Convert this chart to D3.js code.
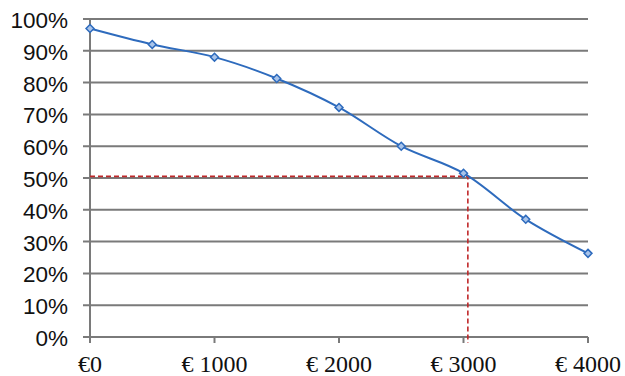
<!DOCTYPE html>
<html>
<head>
<meta charset="utf-8">
<script src="https://cdn.jsdelivr.net/npm/d3@7"></script>
<style>
  body { margin: 0; background: #fff; }
  .ylab { font-family: "Liberation Sans", "Arimo", Arial, Helvetica, sans-serif; }
  .xlab { font-family: "Liberation Serif", "Tinos", "DejaVu Serif", "Times New Roman", serif; }
</style>
</head>
<body>
<svg id="chart"></svg>
<script>
// data
const amounts = [0, 500, 1000, 1500, 2000, 2500, 3000, 3500, 4000];
const shares = [97, 92, 88, 81.3, 72.2, 60, 51.5, 37, 26.3];
const yTicks = [0, 10, 20, 30, 40, 50, 60, 70, 80, 90, 100];
const xTicks = [0, 1000, 2000, 3000, 4000];
const xTickLabels = ["€0", "€ 1000", "€ 2000", "€ 3000", "€ 4000"];
const marker = { amount: 3035, share: 50.5 };

const width = 625, height = 376;
const margin = { top: 19, right: 37, bottom: 39, left: 90 };

const svg = d3.select("#chart")
    .attr("width", width)
    .attr("height", height);

const x = d3.scaleLinear()
    .domain([0, 4000])
    .range([margin.left, width - margin.right]);
const y = d3.scaleLinear()
    .domain([0, 100])
    .range([height - margin.bottom, margin.top]);

// horizontal gridlines
svg.append("g")
    .selectAll("line")
    .data(yTicks)
    .join("line")
    .attr("x1", margin.left - 7)
    .attr("x2", x(4000))
    .attr("y1", d => y(d))
    .attr("y2", d => y(d))
    .attr("stroke", "#7a7a7a")
    .attr("stroke-width", 2);

// y labels
svg.append("g")
    .selectAll("text")
    .data(yTicks)
    .join("text")
    .attr("class", "ylab")
    .attr("x", 68)
    .attr("y", d => y(d) + 9)
    .attr("text-anchor", "end")
    .attr("font-size", "22.5px")
    .attr("fill", "#111")
    .text(d => d + "%");

// vertical axis line
svg.append("line")
    .attr("x1", x(0)).attr("x2", x(0))
    .attr("y1", y(100)).attr("y2", y(0) + 6)
    .attr("stroke", "#7a7a7a")
    .attr("stroke-width", 2);

// x ticks
svg.append("g")
    .selectAll("line")
    .data(xTicks)
    .join("line")
    .attr("x1", d => x(d))
    .attr("x2", d => x(d))
    .attr("y1", y(0))
    .attr("y2", y(0) + 6)
    .attr("stroke", "#7a7a7a")
    .attr("stroke-width", 2);

svg.append("g")
    .selectAll("text")
    .data(xTicks)
    .join("text")
    .attr("class", "xlab")
    .attr("x", d => x(d))
    .attr("y", 372)
    .attr("text-anchor", "middle")
    .attr("font-size", "24px")
    .attr("fill", "#111")
    .text((d, i) => xTickLabels[i]);

// red dashed guide
svg.append("path")
    .attr("d", d3.line()([
        [x(0), y(marker.share)],
        [x(marker.amount), y(marker.share)],
        [x(marker.amount), y(0) + 6]
    ]))
    .attr("fill", "none")
    .attr("stroke", "#c0282a")
    .attr("stroke-width", 1.6)
    .attr("stroke-dasharray", "5,3");

const points = amounts.map((a, i) => ({ a: a, v: shares[i] }));

// smoothed line
svg.append("path")
    .datum(points)
    .attr("fill", "none")
    .attr("stroke", "#2e6bbd")
    .attr("stroke-width", 2)
    .attr("d", d3.line()
        .curve(d3.curveCatmullRom.alpha(0.5))
        .x(d => x(d.a))
        .y(d => y(d.v)));

// diamond markers
svg.append("g")
    .selectAll("path")
    .data(points)
    .join("path")
    .attr("transform", d => "translate(" + x(d.a) + "," + y(d.v) + ")")
    .attr("d", d3.symbol().type(d3.symbolDiamond2).size(40))
    .attr("fill", "#a9c4ea")
    .attr("stroke", "#2e6bbd")
    .attr("stroke-width", 1.5);
</script>
</body>
</html>
